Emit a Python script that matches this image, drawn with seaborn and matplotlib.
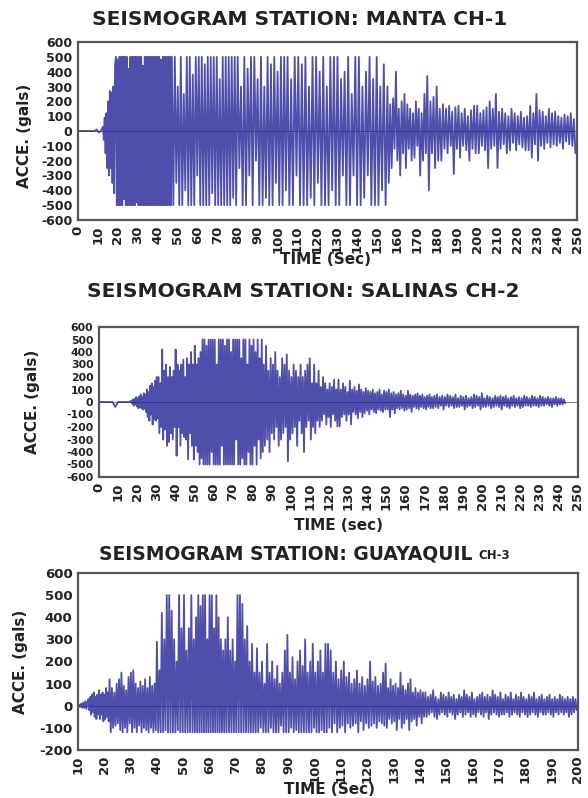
import numpy as np
import pandas as pd
import matplotlib
matplotlib.use("Agg")
import matplotlib.pyplot as plt
import seaborn as sns

# ---------------- data (alternating peak values) ----------------
# MANTA CH-1
manta_edges = [0, 12.5, 19, 47, 80, 105, 155, 175, 200, 225, 250]
manta_p1 = [0, 0, 0, 0, 0, 0, 0, 0, 0, 10, -10, 0]
manta_p2 = [30, -60, 90, -150, 120, -250, 200, -300, 270, -250, 260, -350, 300, -420, 450]
manta_p3 = [500, -500, 480, -500, 500, -500, 500, -500, 500, -460, 500, -500, 500, -500, 420, -500,
            500, -500, 500, -500, 500, -500, 500, -480, 500, -500, 500, -500, 500, -500, 440, -500,
            500, -500, 500, -500, 500, -500, 500, -500, 500, -500, 500, -500, 500, -500, 500, -500,
            500, -500, 480, -500, 500, -500, 500, -500, 500, -500, 500, -500, 500, -500]
manta_p4 = [500, -500, 500, -350, 300, -500, 500, -500, 250, -400, 500, -500, 500, -500, 380, -500,
            500, -300, 500, -500, 500, -500, 450, -500, 500, -500, 500, -420, 500, -500, 500, -500,
            350, -500, 500, -500, 500, -500, 500, -500, 500, -450, 500, -500]
manta_p5 = [500, -250, 300, -500, 500, -500, 420, -300, 500, -500, 500, -200, 350, -500, 500, -500,
            300, -450, 500, -500, 450, -500, 500, -350, 400, -500, 500, -500, 500, -400]
manta_p6 = [500, -500, 350, -500, 500, -300, 500, -500, 450, -500, 500, -500, 300, -450, 500, -500,
            500, -350, 400, -500, 500, -500, 300, -500, 500, -400, 500, -500, 500, -500, 350, -300,
            400, -500, 500, -500, 250, -300, 500, -500, 500, -500, 300, -450, 400, -300, 500, -500,
            350, -500, 500, -500, 300, -400, 450, -500]
manta_p7 = [300, -350, 180, -250, 220, -120, 400, -200, 150, -300, 200, -150, 250, -250, 180, -120,
            150, -200, 120, -180, 200, -100, 150, -300, 120, -200, 250, -150]
manta_p8 = [370, -400, 200, -150, 230, -250, 300, -200, 150, -200, 180, -120, 150, -150, 170, -100,
            130, -290, 160, -120, 170, -180, 120, -100, 150, -130, 100, -200, 140, -120, 170, -150]
manta_p9 = [170, -150, 120, -100, 140, -130, 160, -250, 200, -120, 150, -100, 250, -250, 130, -120,
            150, -90, 120, -150, 100, -130, 150, -80, 120, -130, 100, -90, 130, -110, 90, -130]
manta_p10 = [100, -130, 170, -180, 120, -90, 250, -200, 140, -100, 130, -120, 100, -80, 150, -110,
             120, -90, 130, -100, 100, -80, 90, -120, 110, -70, 100, -90, 120, -100, 80, -150]

# SALINAS CH-2
salinas_edges = [0, 17, 25, 31, 54, 86, 110, 125, 150, 175, 244]
salinas_p1 = [0, 0, 0, 0, 0, 0, -40, 0, 0, 0, 0, 0]
salinas_p2 = [10, -15, 20, -30, 25, -20, 40, -35, 30, -50, 45, -40, 60, -50, 40, -60, 70, -55, 60, -80]
salinas_p3 = [100, -120, 80, -150, 130, -100, 150, -180, 120, -140, 170, -150, 200, -130]
salinas_p4 = [200, -250, 150, -200, 420, -300, 250, -220, 300, -350, 200, -320, 280, -250, 200, -300,
              250, -200, 420, -430, 300, -200, 250, -350, 300, -250, 340, -280, 200, -300, 350, -460,
              300, -250, 400, -350, 300, -460, 450, -350, 300, -400, 350, -500, 400, -450]
salinas_p5 = [500, -500, 500, -500, 450, -500, 500, -500, 500, -400, 500, -500, 500, -500, 300, -500,
              500, -500, 500, -350, 500, -500, 450, -500, 500, -500, 500, -500, 400, -500, 500, -500,
              500, -300, 500, -500, 500, -500, 350, -450, 500, -500, 500, -500, 300, -400, 500, -500,
              450, -500, 500, -350, 400, -500, 500, -300, 350, -450, 500, -400]
salinas_p6 = [300, -350, 450, -300, 250, -400, 350, -250, 300, -300, 400, -200, 250, -350, 200, -300,
              350, -250, 300, -200, 380, -475, 250, -300, 200, -250, 300, -200, 250, -350, 200, -150,
              300, -250, 200, -400, 250, -200, 300, -150]
salinas_p7 = [350, -300, 150, -200, 300, -250, 150, -150, 250, -200, 120, -150, 200, -100, 150, -180,
              100, -120, 150, -200, 120, -100, 180, -150, 100, -195]
salinas_p8 = [180, -195, 100, -120, 150, -100, 120, -150, 80, -100, 170, -180, 100, -80, 120, -100,
              90, -130, 140, -80, 100, -120, 80, -90, 110, -70, 90, -100, 80, -60, 100, -80,
              70, -90, 80, -60, 100, -70, 60, -80, 90, -60]
salinas_p9 = [80, -60, 100, -120, 70, -60, 80, -90, 60, -50, 70, -60, 90, -50, 60, -70, 50, -60, 90, -50,
              60, -80, 50, -40, 60, -50, 70, -60, 50, -40, 60, -50, 40, -60, 50, -40, 60, -50, 40, -50]
salinas_p10 = [50, -40, 60, -50, 40, -30, 50, -60, 40, -30, 60, -40, 50, -30, 40, -50, 60, -40, 30, -40,
               50, -30, 40, -60, 50, -40, 30, -30, 40, -50, 60, -40, 50, -30, 40, -60, 70, -40, 30, -40,
               50, -30, 40, -50, 30, -40, 50, -30, 40, -40, 50, -60, 40, -30, 50, -40, 30, -50, 40, -30,
               50, -40, 30, -30, 40, -50, 30, -40, 50, -30, 40, -30, 30, -40, 50, -30, 40, -30, 30, -40,
               50, -30, 40, -30, 30, -20, 40, -30, 30, -40, 30, -20, 40, -30, 30, -20, 30, -20, 20, -10]

# GUAYAQUIL CH-3
guay_edges = [10, 14, 22, 40, 54, 66, 78, 105, 125, 142, 200]
guay_p1 = [0, 5, -5, 10, -10, 15, -10, 20, -15, 20]
guay_p2 = [30, -20, 40, -40, 50, -30, 60, -50, 40, -60, 50, -40, 70, -60, 50, -40, 60, -70, 50, -60,
           80, -50, 60, -70]
guay_p3 = [120, -120, 80, -100, 60, -90, 100, -80, 120, -110, 150, -120, 90, -100, 70, -120, 130, -80,
           150, -120, 160, -100, 100, -120, 80, -90, 110, -120, 90, -100, 120, -110, 80, -120, 130, -100,
           90, -120, 100, -110]
guay_p4 = [290, -120, 160, -120, 420, -120, 300, -110, 500, -120, 500, -120, 430, -120, 300, -120,
           200, -110, 500, -120, 350, -120, 500, -120, 250, -120, 350, -120, 500, -120]
guay_p5 = [300, -120, 400, -120, 500, -120, 450, -120, 500, -120, 500, -120, 300, -120, 500, -120,
           500, -120, 350, -120, 500, -120, 400, -120, 300, -120, 250, -120]
guay_p6 = [300, -120, 400, -120, 250, -120, 300, -120, 200, -120, 500, -120, 500, -120, 460, -120,
           300, -120, 360, -120, 200, -120, 280, -120, 150, -120]
guay_p7 = [260, -120, 150, -100, 200, -120, 100, -120, 280, -120, 150, -100, 200, -120, 120, -120,
           180, -120, 100, -90, 150, -120, 250, -120, 320, -120, 150, -100, 220, -120, 120, -110,
           200, -120, 250, -120, 180, -120, 300, -120, 150, -120, 200, -120, 280, -100, 150, -120,
           200, -120, 250, -110, 150, -120, 280, -120]
guay_p8 = [280, -100, 250, -120, 150, -80, 200, -120, 120, -100, 160, -90, 200, -120, 130, -80,
           150, -100, 100, -90, 120, -80, 160, -120, 100, -70, 130, -110, 90, -80, 120, -100,
           200, -90, 110, -80, 130, -100, 90, -70]
guay_p9 = [100, -80, 150, -90, 190, -100, 80, -60, 120, -80, 90, -70, 100, -110, 80, -60, 150, -100,
           90, -80, 70, -60, 100, -110, 120, -70, 60, -60, 80, -90, 60, -50, 70, -80, 60, -50]
guay_p10 = [60, -50, 40, -40, 50, -30, 70, -50, 40, -60, 30, -40, 60, -30, 50, -40, 40, -50, 60, -30,
            40, -40, 50, -60, 30, -40, 50, -30, 40, -50, 70, -40, 50, -30, 40, -50, 60, -40, 30, -50,
            40, -30, 50, -40, 60, -50, 40, -30, 50, -60, 40, -40, 70, -30, 50, -40, 40, -50, 60, -40,
            30, -40, 50, -30, 40, -50, 60, -40, 30, -30, 50, -40, 40, -50, 60, -30, 40, -40, 30, -50,
            50, -40, 40, -30, 60, -40, 30, -50, 40, -30, 50, -40, 30, -40, 40, -30, 50, -40, 30, -50,
            40, -30, 30, -40, 50, -30, 40, -40, 30, -30, 40, -50, 30, -40, 40, -30, 30, -20]

manta_segs = [manta_p1, manta_p2, manta_p3, manta_p4, manta_p5, manta_p6, manta_p7, manta_p8, manta_p9, manta_p10]
salinas_segs = [salinas_p1, salinas_p2, salinas_p3, salinas_p4, salinas_p5, salinas_p6, salinas_p7,
                salinas_p8, salinas_p9, salinas_p10]
guay_segs = [guay_p1, guay_p2, guay_p3, guay_p4, guay_p5, guay_p6, guay_p7, guay_p8, guay_p9, guay_p10]


def build(edges, segs):
    ts, vs = [], []
    for t0, t1, seg in zip(edges[:-1], edges[1:], segs):
        n = len(seg)
        ts.append(t0 + (t1 - t0) * np.arange(n) / n)
        vs.append(np.asarray(seg, float))
    return pd.DataFrame({"t": np.concatenate(ts), "a": np.concatenate(vs)})


sns.set_style("white")
plt.rcParams["font.family"] = ["DejaVu Sans"]

W, H = 588, 798
fig = plt.figure(figsize=(W / 100, H / 100), dpi=100)


def px_axes(l, t, r, b):
    return fig.add_axes([l / W, 1 - b / H, (r - l) / W, (b - t) / H])


LINE = "#1c1c94"
SPINE = "#555555"

panels = [
    dict(df=build(manta_edges, manta_segs), box=(78, 42, 577, 220), xlim=(0, 250), xt=range(0, 251, 10),
         ylim=(-600, 600), yt=range(-600, 601, 100), yfs=9.0),
    dict(df=build(salinas_edges, salinas_segs), box=(99, 327, 578, 477), xlim=(0, 250), xt=range(0, 251, 10),
         ylim=(-600, 600), yt=range(-600, 601, 100), yfs=7.8),
    dict(df=build(guay_edges, guay_segs), box=(78, 573, 578, 750), xlim=(10, 200), xt=range(10, 201, 10),
         ylim=(-200, 600), yt=range(-200, 601, 100), yfs=9.5),
]

for p in panels:
    ax = px_axes(*p["box"])
    ax.axhline(0, color="#888888", lw=0.7, zorder=1)
    sns.lineplot(data=p["df"], x="t", y="a", ax=ax, color=LINE, linewidth=1.3, alpha=0.78,
                 estimator=None, sort=False, legend=False, zorder=2)
    ax.set_xlim(*p["xlim"])
    ax.set_ylim(*p["ylim"])
    ax.set_xticks(list(p["xt"]))
    ax.set_yticks(list(p["yt"]))
    ax.set_xticklabels([str(v) for v in p["xt"]], rotation=90, fontsize=9.5, fontweight="bold", color="#222222")
    ax.set_yticklabels([str(v) for v in p["yt"]], fontsize=p["yfs"], fontweight="bold", color="#222222")
    ax.set_xlabel("")
    ax.set_ylabel("")
    ax.tick_params(axis="both", length=2, width=0.8, pad=2, colors="#222222")
    for s in ax.spines.values():
        s.set_color(SPINE)
        s.set_linewidth(1.6)

# titles
tkw = dict(fontweight="bold", color="#222222", va="baseline")
fig.text(300 / W, 1 - 25 / H, "SEISMOGRAM STATION: MANTA CH-1", ha="center", fontsize=14.5, **tkw)
fig.text(303 / W, 1 - 297 / H, "SEISMOGRAM STATION: SALINAS CH-2", ha="center", fontsize=14.5, **tkw)
fig.text(473 / W, 1 - 559 / H, "SEISMOGRAM STATION: GUAYAQUIL", ha="right", fontsize=13.5, **tkw)
fig.text(478 / W, 1 - 559 / H, "CH-3", ha="left", fontsize=8.5, **tkw)

# axis labels
lkw = dict(fontweight="bold", color="#222222", ha="center", va="center")
fig.text(25 / W, 1 - 136 / H, "ACCE. (gals)", rotation=90, fontsize=11, **lkw)
fig.text(33 / W, 1 - 402 / H, "ACCE. (gals)", rotation=90, fontsize=11, **lkw)
fig.text(20 / W, 1 - 662 / H, "ACCE. (gals)", rotation=90, fontsize=11, **lkw)
fig.text(326 / W, 1 - 259 / H, "TIME (Sec)", fontsize=11, **lkw)
fig.text(339 / W, 1 - 525 / H, "TIME (sec)", fontsize=11, **lkw)
fig.text(329 / W, 1 - 789 / H, "TIME (Sec)", fontsize=11, **lkw)

fig.savefig("out.png", dpi=100, facecolor="white")
